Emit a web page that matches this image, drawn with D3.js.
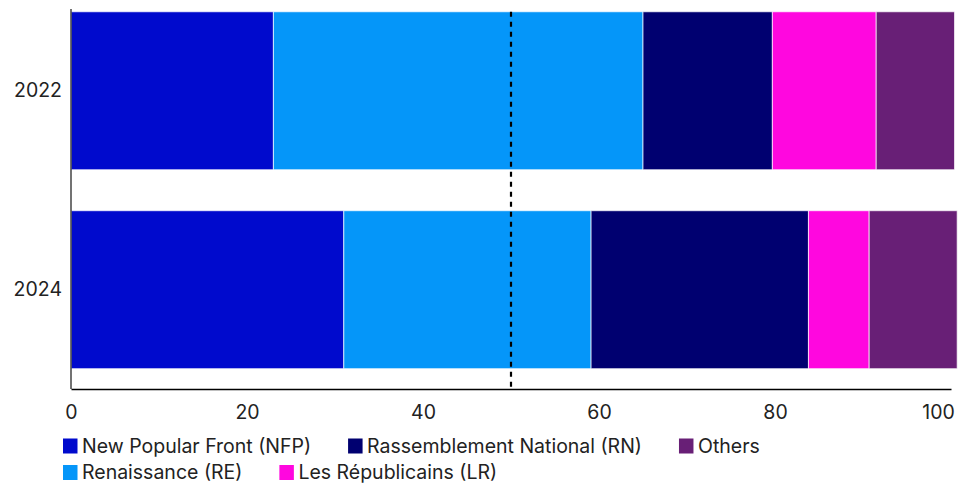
<!DOCTYPE html>
<html>
<head>
<meta charset="utf-8">
<script src="https://cdn.jsdelivr.net/npm/d3@7"></script>
<style>
  html, body { margin: 0; padding: 0; background: #fff; }
  svg { display: block; font-family: Inter, "Noto Sans", sans-serif; }
</style>
</head>
<body>
<svg id="chart" width="969" height="484"></svg>
<script>
// ---- data ----
const years = ["2022", "2024"];
const parties = ["New Popular Front (NFP)", "Renaissance (RE)", "Rassemblement National (RN)", "Les Républicains (LR)", "Others"];
const partyColors = ["#000ACD", "#0596F9", "#000070", "#FF07DF", "#681F76"];
const nfpValues = [23.0, 31.0];
const reValues = [42.0, 28.1];
const rnValues = [14.7, 24.7];
const lrValues = [11.8, 6.9];
const otherValues = [8.9, 10.0];
const xTicks = [0, 20, 40, 60, 80, 100];
const majorityLine = 50;
const legendOrder = [0, 2, 4, 1, 3];

const series = [nfpValues, reValues, rnValues, lrValues, otherValues];
const rows = years.map((y, i) => {
  const r = { year: y };
  parties.forEach((p, j) => r[p] = series[j][i]);
  return r;
});

const FS = 19.5;
const svg = d3.select("#chart");
const x = d3.scaleLinear().domain([0, 100]).range([71, 951]);
const y = d3.scaleBand().domain(years).range([9, 389])
  .paddingInner(0.206).paddingOuter(0.058).align(0.12);
const color = d3.scaleOrdinal().domain(parties).range(partyColors);

const stacked = d3.stack().keys(parties)(rows);

svg.append("g").selectAll("g").data(stacked).join("g")
  .attr("fill", d => color(d.key))
  .selectAll("rect").data(d => d).join("rect")
  .attr("x", d => x(d[0]))
  .attr("y", d => y(d.data.year))
  .attr("width", d => x(d[1]) - x(d[0]))
  .attr("height", y.bandwidth())
  .attr("stroke", "rgba(255,255,255,0.7)")
  .attr("stroke-width", 1);

// majority line
svg.append("line")
  .attr("x1", x(majorityLine)).attr("x2", x(majorityLine))
  .attr("y1", y(years[0])).attr("y2", 389)
  .attr("stroke", "#000").attr("stroke-width", 2.2)
  .attr("stroke-dasharray", "5,5");

// y axis
const yAxis = svg.append("g").attr("transform", `translate(${x(0)},0)`)
  .call(d3.axisLeft(y).tickSize(0).tickPadding(9));
yAxis.select(".domain").attr("d", `M0,9V389`).attr("stroke", "#444").attr("stroke-width", 1.5);
yAxis.selectAll("text").attr("font-size", FS).attr("fill", "#222").attr("font-family", "Inter, sans-serif");

// x axis
const xAxis = svg.append("g").attr("transform", `translate(0,389)`)
  .call(d3.axisBottom(x).tickValues(xTicks).tickSize(0).tickPadding(16).tickFormat(d3.format("d")));
xAxis.select(".domain").attr("stroke", "#000").attr("stroke-width", 1.5);
xAxis.selectAll("text").attr("font-size", FS).attr("fill", "#222").attr("font-family", "Inter, sans-serif")
  .attr("dy", "0.71em")
  .attr("dx", d => d === 100 ? -13 : 0);

// legend
const legend = svg.append("g");
const rowsY = [446, 472.5];
let cx = 63;
let row = 0;
legendOrder.forEach((pi, k) => {
  if (k === 3) { row = 1; cx = 63; }
  const g = legend.append("g").attr("transform", `translate(${cx},${rowsY[row]})`);
  g.append("rect").attr("x", 0).attr("y", -7.5).attr("width", 14.5).attr("height", 15).attr("fill", partyColors[pi]);
  const t = g.append("text").attr("x", 19).attr("y", 0).attr("dy", "0.35em")
    .attr("font-size", FS).attr("fill", "#222").text(parties[pi]);
  const w = t.node().getComputedTextLength();
  cx += 19 + w + 37;
});
</script>
</body>
</html>
